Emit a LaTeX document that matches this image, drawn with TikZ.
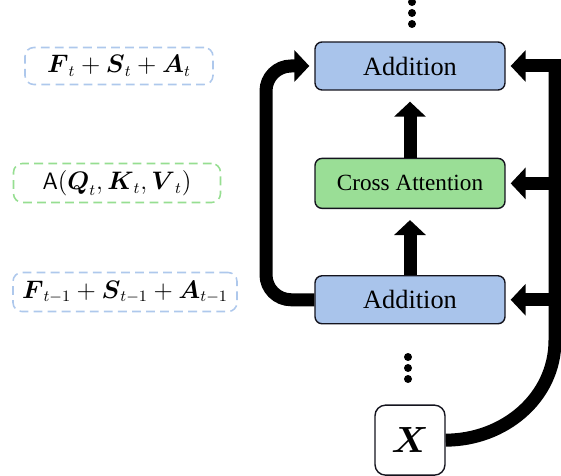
\documentclass[tikz,border=0pt]{standalone}
\usepackage{amsmath}
\usepackage{fontspec}
\setmainfont{Liberation Serif}
\usepackage{tikz}
\usetikzlibrary{arrows.meta, positioning, calc}
\definecolor{addblue}{RGB}{169,196,235}
\definecolor{attgreen}{RGB}{154,222,150}
\definecolor{dashblue}{RGB}{174,200,236}
\definecolor{dashgreen}{RGB}{150,222,145}
\definecolor{mydark}{RGB}{20,20,30}
\tikzset{
  addblock/.style={rectangle, draw=mydark, fill=addblue,
    minimum width=3.8cm, minimum height=0.96cm,
    font=\fontsize{15}{18}\selectfont, rounded corners=4pt, line width=0.8pt},
  attblock/.style={rectangle, draw=mydark, fill=attgreen,
    minimum width=3.8cm, minimum height=1cm,
    font=\fontsize{13.2}{16}\selectfont, rounded corners=4pt, line width=0.8pt},
  inblock/.style={rectangle, draw=mydark, fill=white,
    minimum size=1.4cm, font=\fontsize{22}{26}\selectfont,
    rounded corners=6pt, line width=0.8pt},
  tag/.style={rectangle, inner sep=0pt, line width=0.9pt,
    dash pattern=on 5pt off 3pt, rounded corners=5pt,
    font=\fontsize{13.5}{16}\selectfont},
  fatarrow/.style={-{Triangle[length=0.3cm, width=0.62cm]}, line width=0.26cm,
    color=black},
  fatline/.style={line width=0.26cm, color=black}
}

\begin{document}
\begin{tikzpicture}[x=0.02cm, y=-0.02cm, node distance=1.34cm]
  \useasboundingbox (0,0) rectangle (561,476);

  % Nodes
  \node[addblock] (add_top) at (410,66) {Addition};
  \node[attblock, below=of add_top] (cross) {Cross Attention};
  \node[addblock, below=1.32cm of cross] (add_bot) {Addition};
  \node[inblock, below=1.6cm of add_bot] (xin) {$\boldsymbol{X}$};

  \node[tag, draw=dashblue, minimum width=3.76cm, minimum height=0.74cm] (tag_cur) at (119,66)
    {$\boldsymbol{F}_t+\boldsymbol{S}_t+\boldsymbol{A}_t$};
  \node[tag, draw=dashgreen, minimum width=4.14cm, minimum height=0.78cm] (tag_att) at (117,183)
    {$\mathsf{A}(\boldsymbol{Q}_t,\boldsymbol{K}_t,\boldsymbol{V}_t)$};
  \node[tag, draw=dashblue, minimum width=4.48cm, minimum height=0.78cm] (tag_prev) at (125,292)
    {$\boldsymbol{F}_{t-1}+\boldsymbol{S}_{t-1}+\boldsymbol{A}_{t-1}$};

  % dots
  \foreach \y in {2,13,24} \fill (412,\y) circle (4);
  \foreach \y in {357,368,379} \fill (408,\y) circle (4);

  % Arrows
  \coordinate (rail) at (555,0);
  \coordinate (lrail) at (266,0);
  \draw[fatarrow, shorten >=0.22cm] (add_bot) -- (cross);
  \draw[fatarrow, shorten >=0.22cm] (cross) -- (add_top);
  \draw[fatarrow, rounded corners=0.5cm, shorten >=0.1cm]
    (add_bot.west) -- (lrail |- add_bot) -- (lrail |- add_top) -- (add_top.west);
  \draw[fatline] (xin.east) to[out=0, in=-90] ($(rail |- xin)+(0,-100)$) -- (rail |- add_top);
  \draw[fatarrow, shorten >=0.1cm] ([xshift=0.13cm]rail |- add_top) -- (add_top.east);
  \draw[fatarrow, shorten >=0.1cm] (rail |- cross) -- (cross.east);
  \draw[fatarrow, shorten >=0.1cm] (rail |- add_bot) -- (add_bot.east);
\end{tikzpicture}
\end{document}
